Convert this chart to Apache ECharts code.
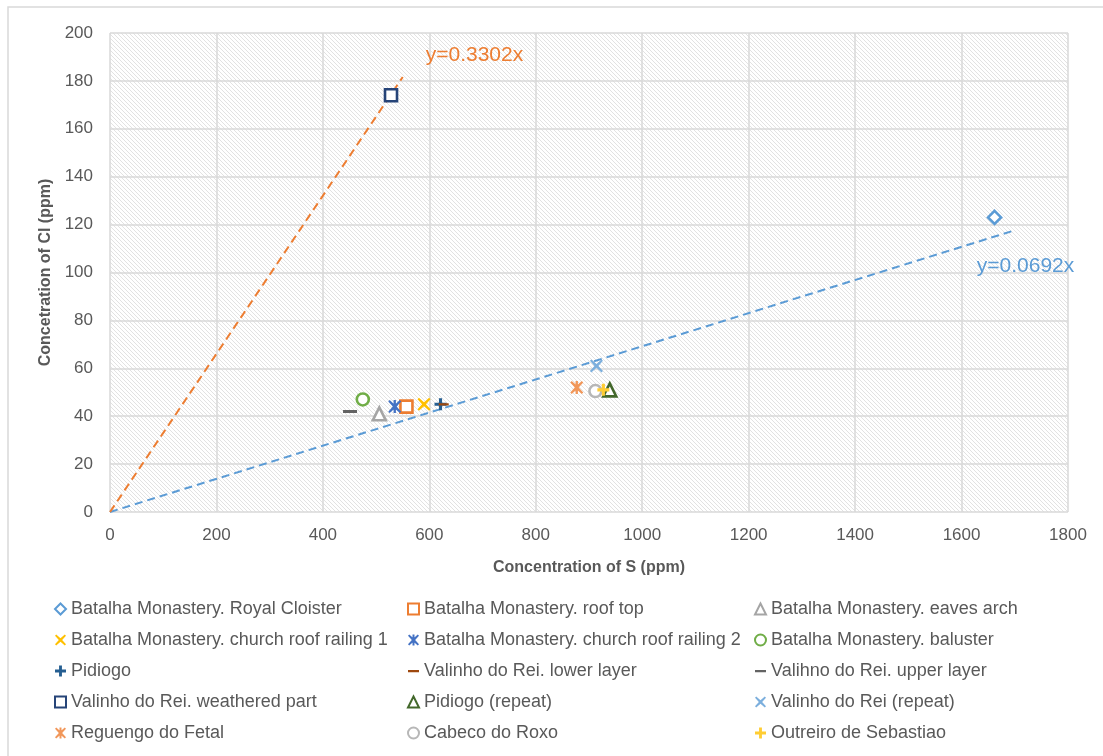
<!DOCTYPE html>
<html>
<head>
<meta charset="utf-8">
<script src="https://cdn.jsdelivr.net/npm/echarts@6/dist/echarts.min.js"></script>
<style>html,body{margin:0;padding:0;background:#fff;}#c{width:1103px;height:756px;}</style>
</head>
<body>
<div id="c"></div>
<script>
// ---- data (S ppm, Cl ppm) ----
const royalCloister    = [[1662, 123]];
const roofTop          = [[557, 44]];
const eavesArch        = [[506, 41]];
const railing1         = [[590, 45]];
const railing2         = [[535, 44]];
const baluster         = [[475, 47]];
const pidiogo          = [[621, 45]];
const valinhoLower     = [[627, 45]];
const valinhoUpper     = [[451, 42]];
const valinhoWeathered = [[528, 174]];
const pidiogoRepeat    = [[939, 51]];
const valinhoRepeat    = [[914, 61]];
const reguengo         = [[877, 52]];
const cabeco           = [[912, 50.5]];
const outreiro         = [[927, 51]];

// trend lines: slope and x-extent
const trendSlopes  = [0.0692, 0.3302];
const trendXEnd    = [1700, 550];
const trendLabels  = ['y=0.0692x', 'y=0.3302x'];

const xTicks = {min: 0, max: 1800, interval: 200};
const yTicks = {min: 0, max: 200, interval: 20};

// ---- symbols ----
const SYM_X = 'path://M1.1,0 L5,3.5 L8.9,0 L10,1.1 L6.5,5 L10,8.9 L8.9,10 L5,6.5 L1.1,10 L0,8.9 L3.5,5 L0,1.1 Z';
const SYM_PLUS = 'path://M3.7,0 H6.3 V3.7 H10 V6.3 H6.3 V10 H3.7 V6.3 H0 V3.7 H3.7 Z';
const SYM_AST = 'path://M1.1,0 L5,3.5 L8.9,0 L10,1.1 L6.5,5 L10,8.9 L8.9,10 L5,6.5 L1.1,10 L0,8.9 L3.5,5 L0,1.1 Z M4.1,0 H5.9 V10 H4.1 Z';
const SYM_DASH = 'path://M0,4 H10 V6.2 H0 Z M0,0 L0.01,0 L0,0.01 Z M10,10 L9.99,10 L10,9.99 Z';

const FONT = 'Liberation Sans';
const TXT = '#595959';

const defs = [
  {name: 'Batalha Monastery. Royal Cloister', data: royalCloister, symbol: 'diamond', size: 13, color: '#5B9BD5', hollow: true},
  {name: 'Batalha Monastery. roof top', data: roofTop, symbol: 'rect', size: 12, color: '#ED7D31', hollow: true},
  {name: 'Batalha Monastery. eaves arch', data: eavesArch, symbol: 'triangle', size: 13, color: '#A5A5A5', hollow: true},
  {name: 'Batalha Monastery. church roof railing 1', data: railing1, symbol: SYM_X, size: 13, color: '#FFC000'},
  {name: 'Batalha Monastery. church roof railing 2', data: railing2, symbol: SYM_AST, size: 13, color: '#4472C4'},
  {name: 'Batalha Monastery. baluster', data: baluster, symbol: 'circle', size: 12, color: '#70AD47', hollow: true},
  {name: 'Pidiogo', data: pidiogo, symbol: SYM_PLUS, size: 12, color: '#255E91'},
  {name: 'Valinho do Rei. lower layer', data: valinhoLower, symbol: SYM_DASH, size: 10, color: '#9E480E'},
  {name: 'Valihno do Rei. upper layer', data: valinhoUpper, symbol: SYM_DASH, size: 14, color: '#636363'},
  {name: 'Valinho do Rei. weathered part', data: valinhoWeathered, symbol: 'rect', size: 12, color: '#264478', hollow: true},
  {name: 'Pidiogo (repeat)', data: pidiogoRepeat, symbol: 'triangle', size: 13, color: '#43682B', hollow: true},
  {name: 'Valinho do Rei (repeat)', data: valinhoRepeat, symbol: SYM_X, size: 13, color: '#7CAFDD'},
  {name: 'Reguengo do Fetal', data: reguengo, symbol: SYM_AST, size: 13, color: '#F1975A'},
  {name: 'Cabeco do Roxo', data: cabeco, symbol: 'circle', size: 12, color: '#B7B7B7', hollow: true},
  {name: 'Outreiro de Sebastiao', data: outreiro, symbol: SYM_PLUS, size: 12, color: '#FFCD33'}
];

const legendCols = [
  [0, 3, 6, 9, 12],
  [1, 4, 7, 10, 13],
  [2, 5, 8, 11, 14]
];
const legendLeft = [49, 402, 749];

// hatch pattern
const tile = document.createElement('canvas');
tile.width = 4; tile.height = 4;
const tctx = tile.getContext('2d');
tctx.fillStyle = '#ffffff';
tctx.fillRect(0, 0, 4, 4);
tctx.fillStyle = '#e2e2e2';
for (let i = 0; i < 4; i++) tctx.fillRect(i, i, 1, 1);

const chart = echarts.init(document.getElementById('c'));

const series = defs.map(d => ({
  name: d.name,
  type: 'scatter',
  data: d.data,
  symbol: d.symbol,
  symbolSize: d.size,
  z: 5,
  itemStyle: d.hollow ? {color: '#ffffff', borderColor: d.color, borderWidth: 2.6, opacity: 1}
                      : {color: d.color, borderWidth: 0, opacity: 1},
  emphasis: {disabled: true}
}));

const trendColors = ['#5B9BD5', '#ED7D31'];
const trendOffsets = [[-38, 36], [23, -22]];
trendSlopes.forEach((k, i) => {
  series.push({
    type: 'line',
    data: [[0, 0], [trendXEnd[i], trendXEnd[i] * k]],
    symbol: 'none',
    silent: true,
    z: 3,
    lineStyle: {color: trendColors[i], width: 2, type: [8, 5]},
    endLabel: {
      show: true,
      formatter: trendLabels[i],
      color: trendColors[i],
      fontSize: 21,
      fontFamily: FONT,
      distance: 0,
      align: 'left',
      verticalAlign: 'middle',
      offset: trendOffsets[i]
    }
  });
});

const legends = legendCols.map((col, ci) => ({
  orient: 'vertical',
  left: legendLeft[ci],
  top: 595,
  itemWidth: 11,
  itemHeight: 11,
  itemGap: 13,
  selectedMode: false,
  textStyle: {color: TXT, fontSize: 18, fontFamily: FONT},
  data: col.map(j => defs[j].name)
}));

chart.setOption({
  animation: false,
  backgroundColor: '#ffffff',
  textStyle: {fontFamily: FONT},
  grid: {
    left: 110, top: 33, right: 35, bottom: 244,
    show: true,
    backgroundColor: {image: tile, repeat: 'repeat'},
    borderWidth: 0
  },
  graphic: [{
    type: 'rect',
    shape: {x: 8, y: 7, width: 1300, height: 900},
    style: {fill: 'none', stroke: '#d9d9d9', lineWidth: 1.5},
    silent: true,
    z: -1
  }],
  xAxis: {
    type: 'value',
    min: xTicks.min, max: xTicks.max, interval: xTicks.interval,
    name: 'Concentration of S (ppm)',
    nameLocation: 'middle',
    nameGap: 48,
    nameTextStyle: {color: TXT, fontSize: 16, fontWeight: 'bold', fontFamily: FONT},
    axisLine: {show: false},
    axisTick: {show: false},
    axisLabel: {color: TXT, fontSize: 17, margin: 15, fontFamily: FONT, formatter: v => String(v)},
    splitLine: {show: true, lineStyle: {color: '#d9d9d9', width: 1.5}}
  },
  yAxis: {
    type: 'value',
    min: yTicks.min, max: yTicks.max, interval: yTicks.interval,
    name: 'Concetration of Cl (ppm)',
    nameLocation: 'middle',
    nameGap: 56,
    nameTextStyle: {color: TXT, fontSize: 16, fontWeight: 'bold', fontFamily: FONT},
    axisLine: {show: false},
    axisTick: {show: false},
    axisLabel: {color: TXT, fontSize: 17, margin: 17, fontFamily: FONT, formatter: v => String(v)},
    splitLine: {show: true, lineStyle: {color: '#d9d9d9', width: 1.5}}
  },
  legend: legends,
  series: series
});
</script>
</body>
</html>
